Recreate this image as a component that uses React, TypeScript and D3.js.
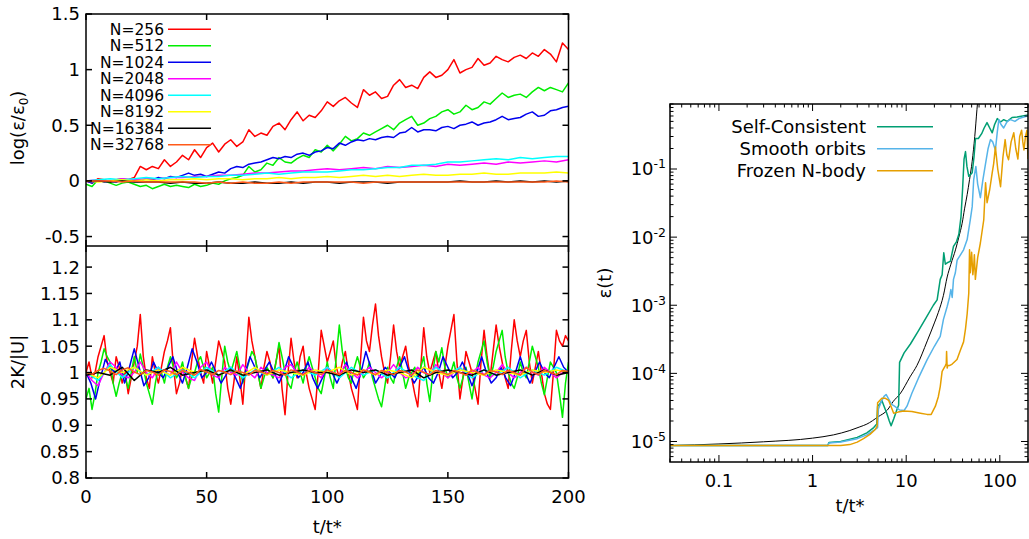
import React from 'react';
import * as d3 from 'd3';

// ---------- Left panels: log(eps/eps0) and 2K/|U| vs t/t* ----------
const N_LABELS = ['N=256', 'N=512', 'N=1024', 'N=2048', 'N=4096', 'N=8192', 'N=16384', 'N=32768'];
const LEFT_X_TICKS = [0, 50, 100, 150, 200];
const TOP_Y_TICKS = [-0.5, 0, 0.5, 1, 1.5];
const BOT_Y_TICKS = [0.8, 0.85, 0.9, 0.95, 1, 1.05, 1.1, 1.15, 1.2];

// log(eps/eps0), sampled on uniform grids from t=0 to t=200
const logN256 = [
  0.00, -0.02, 0.02, 0.01, -0.01, 0.01, 0.02, 0.01, 0.03, 0.13,
  0.10, 0.13, 0.11, 0.19, 0.13, 0.17, 0.23, 0.19, 0.28, 0.21,
  0.30, 0.34, 0.26, 0.33, 0.37, 0.31, 0.35, 0.46, 0.40, 0.43,
  0.41, 0.49, 0.52, 0.46, 0.55, 0.62, 0.54, 0.59, 0.57, 0.63,
  0.71, 0.67, 0.72, 0.75, 0.70, 0.66, 0.82, 0.77, 0.80, 0.74,
  0.76, 0.86, 0.91, 0.84, 0.86, 0.83, 0.93, 0.98, 0.93, 0.95,
  1.00, 1.09, 0.97, 1.00, 1.02, 1.10, 1.04, 1.06, 1.12, 1.09,
  1.07, 1.11, 1.13, 1.10, 1.15, 1.12, 1.18, 1.14, 1.07, 1.24,
  1.18,
];
const logN512 = [
  -0.03, -0.05, 0.01, 0.00, -0.02, -0.04, -0.02, -0.01, -0.03, -0.05,
  -0.04, -0.07, -0.05, -0.03, -0.05, -0.04, -0.05, -0.06, -0.03, -0.05,
  -0.04, -0.02, -0.03, 0.00, 0.02, 0.03, 0.05, 0.13, 0.08, 0.10,
  0.16, 0.14, 0.21, 0.17, 0.16, 0.20, 0.23, 0.21, 0.28, 0.26,
  0.32, 0.27, 0.33, 0.40, 0.36, 0.38, 0.43, 0.41, 0.44, 0.47,
  0.50, 0.46, 0.52, 0.55, 0.58, 0.50, 0.52, 0.56, 0.58, 0.62,
  0.64, 0.60, 0.62, 0.68, 0.64, 0.66, 0.71, 0.69, 0.74, 0.79,
  0.75, 0.77, 0.78, 0.75, 0.80, 0.84, 0.81, 0.84, 0.82, 0.80,
  0.88,
];
const logN1024 = [
  0.00, -0.02, 0.01, -0.01, 0.00, -0.01, 0.01, 0.00, 0.01, 0.00,
  0.02, 0.01, 0.03, 0.02, 0.04, 0.03, 0.05, 0.07, 0.05, 0.06,
  0.04, 0.06, 0.08, 0.07, 0.11, 0.13, 0.12, 0.15, 0.16, 0.17,
  0.19, 0.21, 0.20, 0.22, 0.21, 0.24, 0.25, 0.23, 0.26, 0.27,
  0.30, 0.29, 0.34, 0.32, 0.35, 0.37, 0.36, 0.38, 0.37, 0.39,
  0.40, 0.39, 0.43, 0.44, 0.48, 0.44, 0.46, 0.46, 0.45, 0.48,
  0.49, 0.47, 0.50, 0.51, 0.53, 0.50, 0.52, 0.53, 0.55, 0.58,
  0.55, 0.56, 0.57, 0.60, 0.62, 0.58, 0.59, 0.63, 0.64, 0.66,
  0.67,
];
const logN2048 = [
  0.00, 0.01, 0.00, 0.02, 0.01, 0.02, 0.02, 0.03, 0.03, 0.04,
  0.04, 0.05, 0.05, 0.06, 0.07, 0.07, 0.08, 0.09, 0.09, 0.10,
  0.11, 0.10, 0.11, 0.12, 0.11, 0.13, 0.12, 0.13, 0.14, 0.13,
  0.15, 0.14, 0.15, 0.16, 0.15, 0.17, 0.16, 0.17, 0.18, 0.17,
  0.19,
];
const logN4096 = [
  0.00, 0.01, 0.02, 0.01, 0.02, 0.03, 0.02, 0.03, 0.04, 0.03,
  0.04, 0.04, 0.05, 0.05, 0.06, 0.07, 0.06, 0.07, 0.08, 0.08,
  0.08, 0.09, 0.10, 0.10, 0.11, 0.12, 0.12, 0.14, 0.14, 0.15,
  0.17, 0.17, 0.18, 0.19, 0.20, 0.19, 0.21, 0.20, 0.21, 0.22,
  0.22,
];
const logN8192 = [
  0.00, -0.01, 0.00, 0.01, 0.00, 0.01, 0.00, 0.01, 0.01, 0.02,
  0.01, 0.02, 0.02, 0.01, 0.02, 0.02, 0.03, 0.02, 0.03, 0.03,
  0.04, 0.03, 0.04, 0.05, 0.04, 0.05, 0.04, 0.05, 0.06, 0.05,
  0.05, 0.06, 0.06, 0.07, 0.06, 0.06, 0.07, 0.07, 0.07, 0.08,
  0.07,
];
const logN16384 = [
  0.00, 0.00, -0.01, 0.00, -0.01, -0.01, -0.01, -0.02, -0.01, -0.02,
  -0.02, -0.01, -0.02, -0.02, -0.01, -0.02, -0.02, -0.01, -0.02, -0.01,
  -0.01, -0.02, -0.01, -0.01, -0.01, -0.02, -0.01, -0.01, -0.01, -0.01,
  -0.01, 0.00, -0.01, -0.01, 0.00, -0.01, 0.00, -0.01, 0.00, -0.01,
  0.00,
];
const logN32768 = [
  0.00, 0.00, 0.00, -0.01, 0.00, -0.01, -0.01, -0.01, -0.01, -0.01,
  -0.02, -0.01, -0.02, -0.01, -0.02, -0.02, -0.01, -0.02, -0.01, -0.01,
  -0.01, -0.01, -0.01, -0.02, -0.01, -0.01, -0.01, -0.01, -0.01, -0.01,
  -0.01, -0.01, -0.01, -0.01, -0.01, -0.01, -0.01, -0.01, -0.01, 0.00,
  -0.01,
];

// 2K/|U|
const virN256 = [
  1.00, 1.02, 0.99, 1.00, 1.03, 1.05, 1.07, 1.02, 1.00, 0.98, 1.03, 1.01, 0.98, 1.00, 0.96, 0.99,
  1.02, 1.05, 1.11, 1.03, 0.99, 0.97, 1.03, 1.00, 0.98, 1.01, 1.04, 1.06, 1.085, 1.01, 0.96, 0.98,
  1.01, 0.99, 0.97, 1.02, 1.065, 1.03, 1.00, 0.98, 1.04, 1.01, 0.98, 1.02, 1.06, 1.04, 1.02, 0.97,
  0.94, 0.98, 1.03, 0.99, 0.94, 1.02, 1.105, 1.06, 1.03, 1.00, 0.97, 1.01, 1.04, 1.02, 0.99, 1.02,
  1.05, 0.97, 0.92, 1.00, 1.065, 1.02, 0.99, 1.03, 1.05, 1.00, 0.97, 0.95, 0.93, 1.00, 1.08, 1.05,
  1.02, 1.04, 1.06, 1.01, 0.99, 1.02, 1.04, 1.00, 0.97, 0.95, 0.93, 1.02, 1.105, 1.06, 1.04, 1.09,
  1.13, 1.07, 1.03, 1.00, 0.98, 1.03, 1.09, 1.04, 1.01, 1.03, 1.05, 1.01, 0.99, 0.96, 0.935, 1.01,
  1.085, 1.03, 1.00, 1.02, 1.04, 1.00, 0.97, 1.01, 1.05, 1.08, 1.11, 1.02, 0.95, 0.99, 1.04, 1.02,
  1.00, 0.97, 0.94, 1.02, 1.08, 1.03, 0.99, 1.04, 1.09, 1.05, 1.02, 0.99, 0.97, 1.04, 1.10, 1.06,
  1.03, 1.06, 1.08, 1.02, 0.98, 1.01, 1.04, 1.00, 0.96, 0.94, 0.93, 1.00, 1.08, 1.06, 1.05, 1.07,
  1.06,
];
const virN512 = [
  0.95, 0.97, 0.93, 0.96, 1.00, 1.02, 1.045, 1.03, 1.02, 0.98, 0.955, 0.98, 1.00, 0.99, 0.97, 1.00,
  1.03, 1.00, 1.035, 1.01, 0.98, 0.96, 0.94, 0.98, 1.01, 1.00, 0.98, 1.01, 1.03, 1.01, 0.99, 1.00,
  1.02, 0.99, 0.97, 0.99, 1.00, 1.02, 1.03, 1.01, 0.99, 1.00, 1.01, 0.96, 0.925, 0.99, 1.05, 1.02,
  1.00, 1.02, 1.04, 1.01, 0.98, 1.00, 1.02, 1.04, 1.03, 1.00, 0.97, 0.99, 1.01, 1.00, 0.99, 1.02,
  1.057, 1.03, 1.00, 0.98, 0.97, 1.00, 1.02, 1.00, 0.98, 1.01, 1.03, 1.01, 0.99, 0.97, 0.96, 0.99,
  1.02, 0.99, 0.97, 1.03, 1.09, 1.04, 1.01, 0.99, 0.98, 1.01, 1.03, 1.01, 0.99, 1.00, 1.02, 0.99,
  0.97, 0.95, 0.935, 0.97, 1.01, 0.99, 0.98, 1.01, 1.03, 1.00, 0.97, 0.99, 1.00, 1.01, 0.99, 1.01,
  1.03, 0.98, 0.945, 1.00, 1.04, 1.02, 1.047, 1.01, 0.99, 1.00, 1.02, 0.99, 0.97, 0.99, 1.01, 0.98,
  0.95, 0.99, 1.02, 1.04, 1.06, 1.02, 0.99, 1.01, 1.04, 1.06, 1.08, 1.03, 1.00, 0.98, 0.97, 0.99,
  1.02, 1.00, 0.99, 1.02, 1.05, 1.03, 1.01, 0.98, 0.958, 0.99, 1.02, 1.01, 1.00, 0.96, 0.915, 0.98,
  1.02,
];
const virN1024 = [
  1.00, 0.98, 0.95, 0.99, 1.025, 1.01, 1.00, 1.02, 0.98, 1.01,
  1.045, 1.01, 0.975, 0.99, 1.02, 1.00, 0.99, 1.01, 1.03, 1.00,
  0.98, 1.01, 1.045, 1.02, 0.99, 1.00, 1.02, 1.00, 0.98, 0.995,
  1.01, 0.99, 0.97, 1.00, 1.03, 1.01, 0.99, 1.005, 1.02, 1.00,
  0.98, 1.00, 1.03, 1.01, 0.99, 1.00, 1.02, 0.99, 0.97, 0.99,
  1.01, 1.00, 0.98, 1.00, 1.02, 0.99, 0.97, 1.00, 1.04, 1.01,
  0.98, 0.995, 1.01, 1.00, 0.99, 1.01, 1.03, 1.00, 0.98, 0.995,
  1.01, 0.99, 0.98, 1.00, 1.03, 1.01, 0.99, 1.00, 1.02, 1.00,
  0.975, 1.00, 1.03, 1.00, 0.98, 0.99, 1.01, 0.99, 0.975, 1.00,
  1.03, 1.00, 0.98, 1.00, 1.02, 1.00, 0.99, 1.01, 1.03, 1.01,
  1.00,
];
const virN2048 = [
  1.00, 0.985, 0.975, 1.00, 1.02, 1.01, 0.995, 0.99, 1.00, 1.02,
  1.00, 0.99, 1.01, 1.00, 0.995, 1.02, 1.00, 0.99, 0.985, 1.01,
  1.02, 0.995, 0.99, 1.01, 1.00, 0.995, 1.015, 1.00, 0.99, 1.01,
  1.00, 0.995, 0.99, 1.01, 1.015, 1.00, 0.995, 1.01, 1.00, 0.99,
  1.01, 1.00, 0.995, 1.015, 1.00, 0.99, 1.00, 1.01, 1.00, 0.99,
  1.00, 1.015, 1.00, 0.99, 0.995, 1.01, 1.00, 0.995, 1.015, 1.00,
  0.99, 1.00, 1.01, 0.995, 1.00, 1.01, 0.995, 0.99, 1.00, 1.015,
  1.00, 0.99, 1.00, 1.01, 1.00, 0.995, 1.01, 1.00, 0.99, 1.00,
  1.00,
];
const virN4096 = [
  1.00, 0.985, 1.015, 0.99, 1.01, 0.995, 1.01, 0.99, 1.005, 0.99,
  1.01, 0.995, 1.01, 0.99, 1.005, 0.995, 1.01, 0.99, 1.005, 0.995,
  1.01, 0.99, 1.01, 0.995, 1.005, 0.99, 1.01, 0.995, 0.985, 1.01,
  0.995, 1.01, 0.99, 1.005, 0.995, 1.01, 0.99, 1.005, 0.995, 1.01,
  1.00,
];
const virN8192 = [
  1.00, 0.99, 1.01, 1.00, 1.01, 0.995, 1.005, 0.995, 1.01, 1.00,
  1.005, 0.995, 1.005, 0.995, 1.01, 0.995, 1.005, 1.00, 0.995, 1.005,
  1.00, 1.01, 0.995, 1.005, 0.995, 1.005, 1.00, 0.99, 1.01, 1.00,
  0.995, 1.005, 1.00, 0.995, 1.005, 1.00, 0.995, 1.005, 1.00, 1.005,
  1.00,
];
const virN16384 = [
  0.995, 1.00, 0.995, 1.01, 0.985, 1.005, 1.00, 1.01, 0.995, 1.00,
  1.005, 0.995, 1.005, 0.995, 1.00, 1.005, 0.995, 1.00, 1.005, 1.00,
  1.00, 0.995, 1.005, 1.00, 1.005, 0.995, 1.00, 1.005, 0.99, 1.00,
  1.005, 1.00, 0.995, 1.005, 0.995, 1.00, 1.005, 0.995, 1.005, 0.995,
  1.00,
];
const virN32768 = [
  1.00, 0.997, 1.004, 1.008, 1.003, 0.996, 1.005, 1.009, 1.001, 0.996,
  1.004, 1.001, 0.995, 1.005, 1.002, 0.996, 1.004, 1.000, 0.995, 1.006,
  1.001, 0.996, 1.004, 1.001, 0.996, 1.003, 1.000, 0.995, 1.004, 1.001,
  0.997, 1.004, 1.000, 0.995, 1.005, 1.001, 0.996, 1.004, 1.000, 0.996,
  1.005, 1.000, 0.996, 1.004, 1.000, 0.995, 1.005, 1.001, 0.996, 1.004,
  1.000, 0.996, 1.004, 1.001, 0.995, 1.005, 1.000, 0.996, 1.004, 1.001,
  0.996, 1.004, 1.000, 0.995, 1.005, 1.000, 0.996, 1.004, 1.001, 0.996,
  1.004, 1.000, 0.995, 1.010, 1.001, 0.996, 1.004, 1.000, 0.996, 1.004,
  1.002,
];

const LOG_SERIES = [logN256, logN512, logN1024, logN2048, logN4096, logN8192, logN16384, logN32768];
const VIR_SERIES = [virN256, virN512, virN1024, virN2048, virN4096, virN8192, virN16384, virN32768];
const N_COLORS = ['#ff0000', '#00ee00', '#0000ee', '#ff00ff', '#00ffff', '#ffff00', '#000000', '#ff5a1a'];

// ---------- Right panel: eps(t), log-log ----------
const R_LABELS = ['Self-Consistent', 'Smooth orbits', 'Frozen N-body'];
const R_COLORS = ['#009e73', '#56b4e9', '#e69f00'];
const R_X_TICKS = [0.1, 1, 10, 100];
const R_Y_TICKS = [1e-5, 1e-4, 1e-3, 1e-2, 1e-1];

const scT = [0.03, 1.45, 1.5, 2, 3, 3.8, 4.5, 4.85, 4.95, 5.2, 5.5, 5.8, 6.2, 6.6, 6.9, 7.4, 8.0, 8.3, 8.5, 9.5, 11.1, 13.5, 16.7, 19.5, 21.4, 23.1, 24.2, 25.2, 26.2, 27.4, 29.6, 32, 34.5, 36.5, 38.5, 40, 41.5, 43, 44.5, 46.6, 50.7, 53, 55, 59, 64, 68, 73, 78, 83, 88, 94, 102, 110, 120, 135, 153, 175, 200];
const scE = [8.7e-6, 8.7e-6, 9.7e-6, 1.0e-5, 1.15e-5, 1.34e-5, 1.6e-5, 1.8e-5, 3.3e-5, 3.5e-5, 4.0e-5, 3.3e-5, 2.6e-5, 2.0e-5, 1.7e-5, 2.2e-5, 3.0e-5, 3.4e-5, 1.45e-4, 2.0e-4, 2.7e-4, 4.2e-4, 6.9e-4, 1.0e-3, 1.2e-3, 2.4e-3, 2.8e-3, 5.9e-3, 4.0e-3, 4.2e-3, 4.4e-3, 7.3e-3, 8.6e-3, 1.1e-2, 2.0e-2, 5.0e-2, 0.14, 0.18, 0.11, 0.078, 0.088, 0.15, 0.28, 0.28, 0.33, 0.40, 0.48, 0.40, 0.34, 0.45, 0.55, 0.49, 0.53, 0.50, 0.57, 0.58, 0.60, 0.62];

const soT = [0.03, 1.45, 1.5, 2, 3, 3.8, 4.5, 4.95, 5.05, 5.4, 5.8, 6.1, 6.5, 7.0, 7.5, 8.5, 9.5, 10.2, 11.5, 13.5, 16.7, 20, 23.1, 25, 27.4, 29, 30, 31, 32, 33.5, 35, 38, 41, 44.8, 48.4, 50.7, 52.6, 55.5, 58, 62, 66, 70.4, 75, 79.5, 84, 89.7, 94, 97.6, 103, 110, 120, 130, 145, 160, 180, 200];
const soE = [8.7e-6, 8.7e-6, 9.5e-6, 9.8e-6, 1.1e-5, 1.25e-5, 1.45e-5, 1.6e-5, 3.0e-5, 3.8e-5, 4.6e-5, 4.9e-5, 4.2e-5, 3.5e-5, 3.3e-5, 2.9e-5, 2.85e-5, 3.3e-5, 5.1e-5, 8.5e-5, 1.58e-4, 2.5e-4, 3.5e-4, 6.2e-4, 9.6e-4, 1.3e-3, 1.7e-3, 1.3e-3, 2.4e-3, 3.0e-3, 4.6e-3, 5.5e-3, 6.5e-3, 9.2e-3, 0.018, 0.028, 0.07, 0.109, 0.06, 0.038, 0.07, 0.12, 0.20, 0.27, 0.25, 0.19, 0.35, 0.53, 0.45, 0.40, 0.50, 0.53, 0.50, 0.55, 0.58, 0.60];

const fnT = [0.03, 2, 2.5, 3, 3.5, 4.1, 4.67, 4.9, 4.95, 5.5, 6.0, 6.5, 7.35, 8.2, 9.4, 11.5, 14.2, 16.7, 18.5, 20.5, 22, 23.1, 24.2, 26.2, 26.8, 27.0, 27.4, 27.8, 29, 31, 34.9, 38, 41, 43, 44.8, 46.6, 47.5, 48.4, 50, 51.5, 52.6, 53.5, 54.8, 58, 62, 67.4, 70.4, 73.1, 78, 82.9, 86, 89.7, 95, 101.8, 108, 114, 119, 124, 132, 141, 148, 156, 163, 171, 176, 181, 188, 195, 200];
const fnE = [8.7e-6, 8.7e-6, 9.0e-6, 9.8e-6, 1.1e-5, 1.27e-5, 1.5e-5, 1.7e-5, 3.7e-5, 4.3e-5, 4.3e-5, 4.0e-5, 2.6e-5, 2.7e-5, 2.8e-5, 2.75e-5, 2.6e-5, 2.5e-5, 2.5e-5, 3.3e-5, 4.5e-5, 6.4e-5, 1.07e-4, 1.3e-4, 1.4e-4, 2.1e-4, 1.2e-4, 1.3e-4, 1.3e-4, 1.37e-4, 1.6e-4, 2.2e-4, 2.9e-4, 4.5e-4, 7.5e-4, 1.5e-3, 6.5e-3, 3.0e-3, 6.0e-3, 2.8e-3, 3.7e-3, 5.5e-3, 2.4e-3, 5.0e-3, 8.2e-3, 0.018, 0.063, 0.032, 0.05, 0.088, 0.12, 0.21, 0.10, 0.055, 0.15, 0.27, 0.16, 0.137, 0.25, 0.34, 0.20, 0.14, 0.30, 0.37, 0.25, 0.19, 0.30, 0.37, 0.14];

const anT = [0.03, 0.1, 0.3, 1, 1.67, 2.5, 3.2, 3.8, 5, 6.3, 7.3, 8.6, 11, 13, 16.8, 20, 22, 25, 27.4, 30, 33.6, 36.5, 39.6, 42, 44.8, 47.5, 50.7, 54, 57, 58.2];
const anE = [8.7e-6, 9.2e-6, 9.9e-6, 1.12e-5, 1.25e-5, 1.45e-5, 1.64e-5, 1.8e-5, 2.3e-5, 2.9e-5, 3.9e-5, 5.0e-5, 8.9e-5, 1.3e-4, 3.0e-4, 5.5e-4, 7.8e-4, 1.4e-3, 2.6e-3, 4.0e-3, 6.5e-3, 1.0e-2, 1.6e-2, 2.6e-2, 4.2e-2, 7.0e-2, 0.13, 0.30, 0.75, 1.04];

const R_SERIES = [
  { t: scT, e: scE },
  { t: soT, e: soE },
  { t: fnT, e: fnE },
];

const FONT = 'DejaVu Sans';

export default function App() {
  const W = 1029, H = 539;
  const xL = d3.scaleLinear().domain([0, 200]).range([86, 568.5]);
  const yTop = d3.scaleLinear().domain([-0.585, 1.5]).range([246, 14]);
  const yBot = d3.scaleLinear().domain([0.8, 1.24]).range([478, 246]);
  const xR = d3.scaleLog().domain([0.03, 200]).range([670, 1028]);
  const yR = d3.scaleLog().domain([5e-6, 0.9]).range([462, 104]);

  const lineFor = (vals: number[], y: d3.ScaleLinear<number, number>) => {
    const step = 200 / (vals.length - 1);
    return d3.line<number>().x((_, i) => xL(i * step)).y((v) => y(v))(vals) || '';
  };
  const rLine = d3.line<[number, number]>().x((d) => xR(d[0])).y((d) => yR(d[1]));
  const rSmooth = d3.line<[number, number]>().x((d) => xR(d[0])).y((d) => yR(d[1])).curve(d3.curveMonotoneX);

  const [lx0, lx1] = xL.range();
  const tk = 6;

  const xMinor: number[] = [];
  for (let e = -2; e <= 2; e++) for (let m = 1; m <= 9; m++) {
    const v = m * Math.pow(10, e);
    if (v >= 0.03 && v <= 200) xMinor.push(v);
  }
  const yMinor: number[] = [];
  for (let e = -6; e <= -1; e++) for (let m = 1; m <= 9; m++) {
    const v = m * Math.pow(10, e);
    if (v >= 5e-6 && v <= 0.9) yMinor.push(v);
  }
  const isMajor = (v: number) => Math.abs(Math.log10(v) - Math.round(Math.log10(v))) < 1e-9;

  return (
    <svg width={W} height={H} style={{ position: 'absolute', left: 0, top: 0, background: '#fff' }} fontFamily={FONT}>
      <defs>
        <clipPath id="cTop"><rect x={lx0} y={14} width={lx1 - lx0} height={232} /></clipPath>
        <clipPath id="cBot"><rect x={lx0} y={246} width={lx1 - lx0} height={232} /></clipPath>
        <clipPath id="cR"><rect x={670} y={104} width={358} height={358} /></clipPath>
      </defs>

      <g clipPath="url(#cTop)" fill="none" strokeWidth={1.5} strokeLinejoin="round">
        {LOG_SERIES.map((s, i) => (
          <path key={i} d={lineFor(s, yTop)} stroke={N_COLORS[i]} />
        ))}
      </g>
      <g clipPath="url(#cBot)" fill="none" strokeWidth={1.5} strokeLinejoin="round">
        {VIR_SERIES.map((s, i) => (
          <path key={i} d={lineFor(s, yBot)} stroke={N_COLORS[i]} />
        ))}
      </g>

      <g fontSize={15.5}>
        {N_LABELS.map((l, i) => {
          const y = 29.3 + i * 16.5;
          return (
            <g key={l}>
              <text x={164} y={y + 5.5} textAnchor="end" fill="#000">{l}</text>
              <line x1={168} x2={211} y1={y} y2={y} stroke={N_COLORS[i]} strokeWidth={1.5} />
            </g>
          );
        })}
      </g>

      <g stroke="#000" strokeWidth={1.5} fill="none">
        <rect x={lx0} y={14} width={lx1 - lx0} height={464} />
        <line x1={lx0} x2={lx1} y1={246} y2={246} />
        {LEFT_X_TICKS.map((t) => (
          <g key={t}>
            <line x1={xL(t)} x2={xL(t)} y1={14} y2={14 + tk} />
            <line x1={xL(t)} x2={xL(t)} y1={246} y2={246 - tk} />
            <line x1={xL(t)} x2={xL(t)} y1={246} y2={246 + tk} />
            <line x1={xL(t)} x2={xL(t)} y1={478} y2={478 - tk} />
          </g>
        ))}
        {TOP_Y_TICKS.map((v) => (
          <g key={v}>
            <line x1={lx0} x2={lx0 + tk} y1={yTop(v)} y2={yTop(v)} />
            <line x1={lx1} x2={lx1 - tk} y1={yTop(v)} y2={yTop(v)} />
          </g>
        ))}
        {BOT_Y_TICKS.map((v) => (
          <g key={v}>
            <line x1={lx0} x2={lx0 + tk} y1={yBot(v)} y2={yBot(v)} />
            <line x1={lx1} x2={lx1 - tk} y1={yBot(v)} y2={yBot(v)} />
          </g>
        ))}
      </g>

      <g fontSize={18} fill="#000">
        {TOP_Y_TICKS.map((v) => (
          <text key={v} x={80} y={yTop(v)} dy="0.36em" textAnchor="end">{String(v)}</text>
        ))}
        {BOT_Y_TICKS.map((v) => (
          <text key={v} x={80} y={yBot(v)} dy="0.36em" textAnchor="end">{String(v)}</text>
        ))}
        {LEFT_X_TICKS.map((t) => (
          <text key={t} x={xL(t)} y={503} textAnchor="middle">{String(t)}</text>
        ))}
        <text x={(lx0 + lx1) / 2} y={533} textAnchor="middle">t/t*</text>
        <text transform={`translate(24,${(14 + 246) / 2 - 2}) rotate(-90)`} textAnchor="middle">
          log(ε/ε<tspan fontSize={12} dy={4}>0</tspan><tspan dy={-4}>)</tspan>
        </text>
        <text transform={`translate(24,${(246 + 478) / 2}) rotate(-90)`} textAnchor="middle">2K/|U|</text>
      </g>

      <g clipPath="url(#cR)" fill="none" strokeLinejoin="round">
        <path d={rSmooth(anT.map((t, i) => [t, anE[i]] as [number, number])) || ''} stroke="#000" strokeWidth={1} />
        {R_SERIES.map((s, i) => (
          <path key={i} d={rLine(s.t.map((t, j) => [t, s.e[j]] as [number, number])) || ''} stroke={R_COLORS[i]} strokeWidth={1.5} />
        ))}
      </g>

      <g fontSize={18}>
        {R_LABELS.map((l, i) => {
          const y = 126.7 + i * 22;
          return (
            <g key={l}>
              <text x={866} y={y + 6} textAnchor="end" fill="#000">{l}</text>
              <line x1={877} x2={933} y1={y} y2={y} stroke={R_COLORS[i]} strokeWidth={1.5} />
            </g>
          );
        })}
      </g>

      <g stroke="#000" strokeWidth={1.5} fill="none">
        <rect x={670} y={104} width={358} height={358} />
      </g>
      <g stroke="#000" strokeWidth={1} fill="none">
        {xMinor.map((v) => {
          const L = isMajor(v) ? 7 : 3.5;
          return (
            <g key={'x' + v}>
              <line x1={xR(v)} x2={xR(v)} y1={462} y2={462 - L} />
              <line x1={xR(v)} x2={xR(v)} y1={104} y2={104 + L} />
            </g>
          );
        })}
        {yMinor.map((v) => {
          const L = isMajor(v) ? 7 : 3.5;
          return (
            <g key={'y' + v}>
              <line x1={670} x2={670 + L} y1={yR(v)} y2={yR(v)} />
              <line x1={1028} x2={1028 - L} y1={yR(v)} y2={yR(v)} />
            </g>
          );
        })}
      </g>

      <g fontSize={18} fill="#000">
        {R_X_TICKS.map((t) => (
          <text key={t} x={xR(t)} y={487} textAnchor="middle">{String(t)}</text>
        ))}
        {R_Y_TICKS.map((v) => (
          <text key={v} x={666} y={yR(v)} dy="0.36em" textAnchor="end">
            10<tspan fontSize={12.5} dy={-7}>{String(Math.round(Math.log10(v)))}</tspan>
          </text>
        ))}
        <text x={850} y={512} textAnchor="middle">t/t*</text>
        <text transform={`translate(611,${(104 + 462) / 2}) rotate(-90)`} textAnchor="middle">ε(t)</text>
      </g>
    </svg>
  );
}
